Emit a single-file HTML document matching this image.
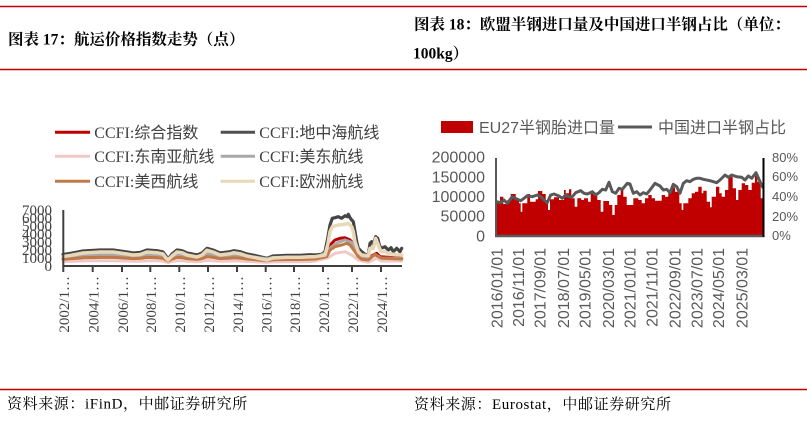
<!DOCTYPE html>
<html>
<head>
<meta charset="utf-8">
<style>
html,body{margin:0;padding:0;background:#fff;}
body{width:807px;height:425px;overflow:hidden;}
svg{display:block;}
.ttl{font-family:"Liberation Serif","Noto Serif CJK SC",serif;font-weight:bold;font-size:15.5px;fill:#000;}
.src{font-family:"Liberation Serif","Noto Serif CJK SC",serif;font-size:15px;letter-spacing:0.6px;fill:#000;}
.lg1{font-family:"Liberation Serif","Noto Sans CJK SC",sans-serif;font-size:16px;fill:#404040;}
.ax1{font-family:"Liberation Serif",serif;font-size:15px;fill:#404040;}
.lg2{font-family:"Liberation Sans","Noto Sans CJK SC",sans-serif;font-size:16px;fill:#595959;}
.ax2{font-family:"Liberation Sans",sans-serif;font-size:16px;fill:#595959;}
.ax3{font-family:"Liberation Sans",sans-serif;font-size:13px;fill:#595959;}
</style>
</head>
<body>
<svg width="807" height="425" viewBox="0 0 807 425" xmlns="http://www.w3.org/2000/svg">
<rect width="807" height="425" fill="#fff"/>
<!-- frame lines -->
<line x1="0" y1="6.5" x2="807" y2="6.5" stroke="#C00000" stroke-width="1.5"/>
<line x1="0" y1="69.5" x2="807" y2="69.5" stroke="#C00000" stroke-width="1.5"/>
<line x1="0" y1="389.5" x2="807" y2="389.5" stroke="#C00000" stroke-width="1.5"/>

<!-- titles -->
<text class="ttl" x="8" y="44.5">图表 17：航运价格指数走势（点）</text>
<text class="ttl" x="414" y="29.5">图表 18：欧盟半钢进口量及中国进口半钢占比（单位：</text>
<text class="ttl" x="413" y="58.5">100kg）</text>

<!-- footers -->
<text class="src" x="7" y="408.5">资料来源：iFinD，中邮证券研究所</text>
<text class="src" x="414" y="409">资料来源：Eurostat，中邮证券研究所</text>

<!-- ============ LEFT CHART ============ -->
<!-- legend -->
<line x1="55" y1="132.3" x2="90" y2="132.3" stroke="#C00000" stroke-width="3"/>
<text class="lg1" x="94.3" y="138">CCFI:综合指数</text>
<line x1="220.7" y1="132.3" x2="255" y2="132.3" stroke="#505050" stroke-width="3"/>
<text class="lg1" x="259.3" y="138">CCFI:地中海航线</text>
<line x1="55" y1="156.3" x2="90" y2="156.3" stroke="#F0C8C8" stroke-width="3"/>
<text class="lg1" x="94.3" y="162">CCFI:东南亚航线</text>
<line x1="220.7" y1="156.3" x2="255" y2="156.3" stroke="#A8A8A8" stroke-width="3"/>
<text class="lg1" x="259.3" y="162">CCFI:美东航线</text>
<line x1="55" y1="181.3" x2="90" y2="181.3" stroke="#C07A48" stroke-width="3"/>
<text class="lg1" x="94.3" y="187">CCFI:美西航线</text>
<line x1="220.7" y1="181.3" x2="255" y2="181.3" stroke="#E8D8B8" stroke-width="3"/>
<text class="lg1" x="259.3" y="187">CCFI:欧洲航线</text>

<!-- y labels -->
<g class="ax1" text-anchor="end">
<text x="52" y="215">7000</text>
<text x="52" y="223">6000</text>
<text x="52" y="231">5000</text>
<text x="52" y="239">4000</text>
<text x="52" y="247">3000</text>
<text x="52" y="255">2000</text>
<text x="52" y="263">1000</text>
<text x="52" y="271">0</text>
</g>

<!-- series -->
<g fill="none" stroke-linejoin="round" stroke-linecap="round">
<polyline stroke="#C00000" stroke-width="3" points="63,258.7 70,258.3 78,257.8 83,257.5 92,257.3 100,257.1 113,257.1 120,257.5 127,257.8 133,258.2 140,258 147,257.1 157,257.4 163,257.8 166,259.2 168,260.3 172,258.5 177,257.1 182,257.4 187,258.2 197,258.9 202,258.2 207,256.6 213,257.1 220,258.2 230,257.7 234,257.4 240,257.7 247,258.5 255,259 260,259.4 267,260 273,259.2 287,258.9 300,258.9 310,258.7 315,258.3 325,256.7 327.7,250 330,245 335,240 340,238.3 345,237.7 350,240 353.3,243.3 356.7,251.7 361.7,256.7 368.3,257.7 373.3,255 376.7,253.3 380,256.7 401.7,258.3"/>
<polyline stroke="#454545" stroke-width="3.2" points="63,254.5 70,253.5 78,252 83,251 92,250.5 100,250 113,250 120,251 127,252 133,253 140,252.5 147,250 157,250.7 163,252 166,256 168,259 172,254 177,250 182,250.7 187,253 197,255 202,253 207,248.3 213,250 220,253 230,251.7 234,250.7 240,251.7 247,254 255,255.5 260,256.7 267,258.3 273,256 287,255.3 300,255.3 310,254.7 315,255 321.7,254.3 325,251.7 327.7,238.3 330,225 332.3,218.3 335,217.7 338.3,216.7 341.7,218.3 345,215.7 347.3,216.7 348.3,214.3 350,217.7 351.7,220 353.3,221.7 355,231.7 356.7,241.7 358.3,248.3 361.7,251.7 365,254.3 368.3,255 370,243.3 371.7,241.7 373.3,244.3 375.7,236.7 377.7,238.3 379.3,245 381,248.3 385,246.7 388.3,250 391,247.7 393.3,251.7 396.7,248.3 400,251.7 401.7,248.3"/>
<polyline stroke="#F0C8C8" stroke-width="3" points="63,261.6 70,261.4 78,261.1 83,260.9 92,260.8 100,260.7 113,260.7 120,260.9 127,261.1 133,261.3 140,261.2 147,260.7 157,260.8 163,261.1 166,261.9 168,262.5 172,261.5 177,260.7 182,260.8 187,261.3 197,261.7 202,261.3 207,260.4 213,260.7 220,261.3 230,261 234,260.8 240,261 247,261.5 255,261.8 260,262 267,262.4 273,261.9 287,261.8 300,261.8 310,261.6 315,261 328.3,257.7 335,253.3 345,251.7 351.7,255 358.3,260 368.3,262.3 376.7,258.3 381.7,261 401.7,261"/>
<polyline stroke="#A8A8A8" stroke-width="3" points="63,256.8 70,256.3 78,255.5 83,255 92,254.8 100,254.5 113,254.5 120,255 127,255.5 133,256 140,255.8 147,254.5 157,254.9 163,255.5 166,257.5 168,259 172,256.5 177,254.5 182,254.9 187,256 197,257 202,256 207,253.7 213,254.5 220,256 230,255.4 234,254.9 240,255.4 247,256.5 255,257.3 260,257.9 267,258.7 273,257.5 287,257.2 300,257.2 310,256.9 315,258.3 327.7,251.7 331.7,246.7 338.3,242.3 345,240 351.7,242.3 356.7,253.3 361.7,258.3 370,257 376,255 381,258 401.7,258.3"/>
<polyline stroke="#C07A48" stroke-width="3" points="63,259.2 70,258.8 78,258.2 83,257.8 92,257.6 100,257.4 113,257.4 120,257.8 127,258.2 133,258.6 140,258.4 147,257.4 157,257.7 163,258.2 166,259.8 168,261 172,259 177,257.4 182,257.7 187,258.6 197,259.4 202,258.6 207,256.7 213,257.4 220,258.6 230,258.1 234,257.7 240,258.1 247,259 255,259.6 260,260.1 267,260.7 273,259.8 287,259.5 300,259.5 310,259.3 315,259 326.7,256.7 330,250 335,246.7 341.7,245 346.7,243.3 350,245 355,251.7 358.3,256.7 361.7,259.3 368.3,260 375,254.3 378.3,256.7 381.7,258.3 401.7,259"/>
<polyline stroke="#E8D8B8" stroke-width="3.5" points="63,256.5 70,255.5 78,254 83,253 92,252.5 100,252 113,252 120,253 127,254 133,255 140,254.5 147,252 157,252.7 163,254 166,258 168,260 172,256 177,252 182,252.7 187,255 197,257 202,255 207,250.3 213,252 220,255 230,253.7 234,252.7 240,253.7 247,256 255,257.5 260,258.7 267,260 273,258 287,257.3 300,257.3 310,256.7 315,256.7 325,255 327.7,245 330,231.7 332.3,226.7 338.3,225 345,224.3 348.3,223.3 351.7,226.7 353.3,231.7 355,241.7 358.3,251.7 361.7,255 368.3,255.7 370,248.3 373.3,248.3 375.7,238.3 378.3,245 381,251.7 385,251.7 388.3,253.3 393.3,254.3 401.7,255"/>
</g>

<!-- axes -->
<line x1="63.3" y1="210" x2="63.3" y2="266.5" stroke="#404040" stroke-width="2"/>
<line x1="62.3" y1="266" x2="402" y2="266" stroke="#404040" stroke-width="2"/>
<g stroke="#404040" stroke-width="2">
<line x1="63.3" y1="266" x2="63.3" y2="272"/>
<line x1="92.7" y1="266" x2="92.7" y2="272"/>
<line x1="122" y1="266" x2="122" y2="272"/>
<line x1="150.3" y1="266" x2="150.3" y2="272"/>
<line x1="179.3" y1="266" x2="179.3" y2="272"/>
<line x1="208" y1="266" x2="208" y2="272"/>
<line x1="237" y1="266" x2="237" y2="272"/>
<line x1="265.7" y1="266" x2="265.7" y2="272"/>
<line x1="294" y1="266" x2="294" y2="272"/>
<line x1="323" y1="266" x2="323" y2="272"/>
<line x1="352" y1="266" x2="352" y2="272"/>
<line x1="381" y1="266" x2="381" y2="272"/>
</g>
<!-- x labels -->
<g class="ax1" text-anchor="end">
<text transform="translate(63.8,276) rotate(-90)" dy="0.35em">2002/1…</text>
<text transform="translate(93.2,276) rotate(-90)" dy="0.35em">2004/1…</text>
<text transform="translate(122.5,276) rotate(-90)" dy="0.35em">2006/1…</text>
<text transform="translate(150.8,276) rotate(-90)" dy="0.35em">2008/1…</text>
<text transform="translate(179.8,276) rotate(-90)" dy="0.35em">2010/1…</text>
<text transform="translate(208.5,276) rotate(-90)" dy="0.35em">2012/1…</text>
<text transform="translate(237.5,276) rotate(-90)" dy="0.35em">2014/1…</text>
<text transform="translate(266.2,276) rotate(-90)" dy="0.35em">2016/1…</text>
<text transform="translate(294.5,276) rotate(-90)" dy="0.35em">2018/1…</text>
<text transform="translate(323.5,276) rotate(-90)" dy="0.35em">2020/1…</text>
<text transform="translate(352.5,276) rotate(-90)" dy="0.35em">2022/1…</text>
<text transform="translate(381.5,276) rotate(-90)" dy="0.35em">2024/1…</text>
</g>

<!-- ============ RIGHT CHART ============ -->
<!-- legend -->
<rect x="441" y="121" width="32" height="12" fill="#C00000"/>
<text class="lg2" x="479" y="133">EU27半钢胎进口量</text>
<line x1="618" y1="127" x2="652" y2="127" stroke="#595959" stroke-width="3"/>
<text class="lg2" x="658" y="133">中国进口半钢占比</text>

<!-- left y labels -->
<g class="ax2" text-anchor="end">
<text x="485" y="162.5">200000</text>
<text x="485" y="182.3">150000</text>
<text x="485" y="202.2">100000</text>
<text x="485" y="221.7">50000</text>
<text x="485" y="241.5">0</text>
</g>
<!-- right y labels -->
<g class="ax3">
<text x="772" y="161.8">80%</text>
<text x="772" y="180.8">60%</text>
<text x="772" y="200.8">40%</text>
<text x="772" y="220.8">20%</text>
<text x="772" y="240.2">0%</text>
</g>

<!-- bars -->
<path fill="#C00000" d="M496,236 V203.3 H500 V196.7 H503.3 V204 H507.3 V200 H510.7 V194 H515.7 V200 H519 V203.3 H520.7 V211.7 H522.3 V203.3 H527.3 V194 H530 V201.7 H535.7 V199.3 H538 V191 H542.3 V194 H545.7 V203.3 H548 V210 H550 V199.3 H554 V197.3 H559 V200 H564 V190 H565.7 V193.3 H569 V189.3 H571.3 V198.3 H574.7 V206.7 H577.3 V198.3 H581.3 V200 H584 V198.3 H588 V201.7 H590.7 V192.7 H597.3 V200 H600.7 V211.7 H603.3 V201 H609 V205 H612.3 V215 H614.7 V205 H617.3 V195 H620.7 V190 H623.3 V196.7 H626.7 V205 H633.3 V198.3 H638.3 V200 H641.7 V203.3 H645 V198.3 H648.3 V195 H651.7 V198.3 H655 V200.7 H661.7 V195 H665 V196.7 H668.3 V193.3 H670.7 V187.3 H675 V191.7 H679.3 V203.3 H681.7 V210 H683.3 V203.3 H688.3 V198.3 H691.7 V193.3 H695 V191.7 H698.3 V186.7 H701.7 V193.3 H703.3 V190.7 H706.7 V201.7 H710 V207.3 H711.7 V196.7 H716 V186.7 H719.3 V193.3 H721.7 V196.7 H725 V190 H728.3 V176.7 H732.7 V188.3 H736 V200 H738.3 V190 H741.7 V183.3 H745 V185 H748.3 V190 H751.7 V182.7 H755 V175 H757.3 V181.7 H760.7 V198.3 H763 V236 Z"/>

<!-- share line -->
<polyline fill="none" stroke="#595959" stroke-width="3" stroke-linejoin="round" stroke-linecap="round" points="496.7,201.7 500.7,202.7 504,200 507.3,203.3 512.3,196.7 517.3,199.3 520.7,200.7 524,198.3 527.3,195.7 532.3,196.7 537.3,195 540.7,196.7 544,200 547.3,202.7 550.7,195 554,194 559,196 562.3,198.3 565.7,195 569,196.7 572.3,196.7 575.7,192.7 580.7,190.7 584,193.3 587.3,194 592.3,191.7 595.7,195 599,192.7 602.3,189.3 605.7,190 609,182.3 612.3,191.7 615.7,193.3 619,188.3 622.3,189.3 627.3,183.3 630,184 633.3,193.3 636.7,191.7 640,195 643.3,192.7 646.7,194 650,190 655,183.3 660,186 663.3,190 666.7,189.3 670,192.7 673.3,184.3 676.7,186.7 680,193.3 683.3,183.3 686.7,180.7 690,181.7 693.3,179.3 696.7,178.3 700,178.3 703.3,179.3 710,180.7 716.7,182.7 720,180 725,175 728.3,177.3 731.7,175 736.7,176.7 741.7,177.3 745,180 748.3,176 751.7,178.3 756,172.7 759.3,180 762.7,187.3"/>

<!-- axes -->
<line x1="496" y1="158" x2="496" y2="237" stroke="#595959" stroke-width="2"/>
<line x1="495" y1="236" x2="764.5" y2="236" stroke="#595959" stroke-width="2.5"/>
<line x1="763.5" y1="158" x2="763.5" y2="237" stroke="#000" stroke-width="2"/>

<!-- x labels -->
<g class="ax2" text-anchor="end">
<text transform="translate(496.7,248) rotate(-90)" dy="0.35em">2016/01/01</text>
<text transform="translate(518.3,248) rotate(-90)" dy="0.35em">2016/11/01</text>
<text transform="translate(540,248) rotate(-90)" dy="0.35em">2017/09/01</text>
<text transform="translate(563.3,248) rotate(-90)" dy="0.35em">2018/07/01</text>
<text transform="translate(585,248) rotate(-90)" dy="0.35em">2019/05/01</text>
<text transform="translate(608.3,248) rotate(-90)" dy="0.35em">2020/03/01</text>
<text transform="translate(630,248) rotate(-90)" dy="0.35em">2021/01/01</text>
<text transform="translate(651.7,248) rotate(-90)" dy="0.35em">2021/11/01</text>
<text transform="translate(675,248) rotate(-90)" dy="0.35em">2022/09/01</text>
<text transform="translate(696.7,248) rotate(-90)" dy="0.35em">2023/07/01</text>
<text transform="translate(718.3,248) rotate(-90)" dy="0.35em">2024/05/01</text>
<text transform="translate(741.7,248) rotate(-90)" dy="0.35em">2025/03/01</text>
</g>
</svg>
</body>
</html>
